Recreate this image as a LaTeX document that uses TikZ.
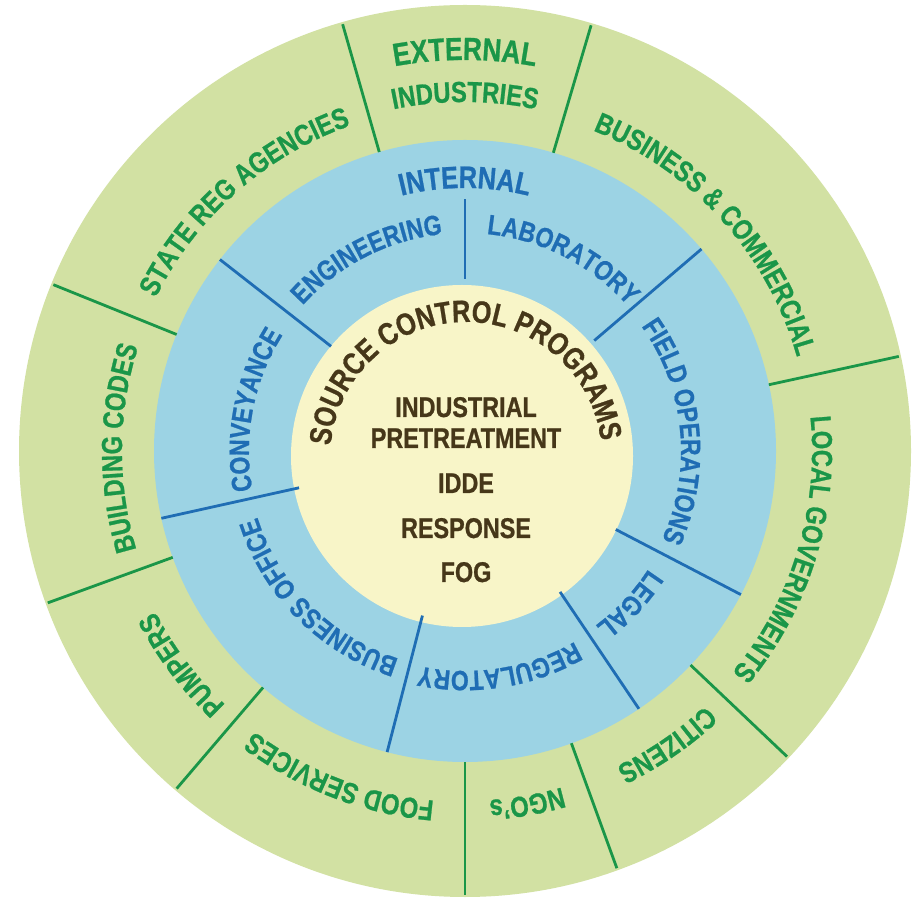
\documentclass[tikz,border=0pt]{standalone}
\usepackage{fontspec}
\setmainfont{Liberation Sans}[FakeStretch=0.82,BoldFeatures={FakeBold=0.8}]
\usetikzlibrary{decorations.text}
\definecolor{ringgreen}{HTML}{D2E1A3}
\definecolor{ringblue}{HTML}{9CD3E4}
\definecolor{cream}{HTML}{F8F5C8}
\definecolor{tgreen}{HTML}{1A9648}
\definecolor{tblue}{HTML}{1F6DB4}
\definecolor{tbrown}{HTML}{463719}
\newcommand{\gfont}{\fontsize{29}{33}\selectfont\bfseries}
\newcommand{\gbigfont}{\fontsize{32}{36}\selectfont\bfseries}
\newcommand{\bfontx}{\fontsize{28}{32}\selectfont\bfseries}
\newcommand{\ifontx}{\fontsize{31}{35}\selectfont\bfseries}
\newcommand{\cfont}{\fontsize{28.5}{32}\selectfont\bfseries}
\newcommand{\tfont}{\fontsize{31}{35}\selectfont\bfseries}
\newcommand{\ringlabel}[5]{%
  \path[decorate,decoration={text along path,text align=center,text color=#4,text={#5}}]
   ([shift={({#3+85}:#2)}]#1) arc[start angle={#3+85},end angle={#3-85},radius=#2];}
\tikzset{
  gline/.style={draw=tgreen,line width=2.8pt},
  bline/.style={draw=tblue,line width=2.8pt},
  centertext/.style={text=tbrown,font=\cfont,anchor=base,inner sep=0pt}
}
\begin{document}
\begin{tikzpicture}[x=1pt,y=1pt]
\useasboundingbox (0,0) rectangle (917,902);
\fill[white] (0,0) rectangle (917,902);
\coordinate (C) at (465,451);
\coordinate (K) at (462,446);
\coordinate (T) at (466,444);
% rings
\fill[ringgreen] (C) circle[radius=446];
\fill[ringblue] (C) circle[radius=311];
\fill[cream] (K) circle[radius=171];
% outer dividers
\foreach \a in {73.5,106,158,200,229.5,270,290,316.5,12.3}
  \draw[gline] ([shift={(\a:311)}]C) -- ([shift={(\a:444)}]C);
% inner dividers
\foreach \a in {142,40.5,192.5,255.5,304,332.5}
  \draw[bline] ([shift={(\a:170)}]C) -- ([shift={(\a:311)}]C);
\draw[bline] ([shift={(90:172)}]C) -- ([shift={(90:252)}]C);
% outer labels
\ringlabel{C}{391}{90}{tgreen}{|\gbigfont|EXTERNAL}
\ringlabel{C}{349}{90}{tgreen}{|\gfont|INDUSTRIES}
\ringlabel{C}{345}{131.5}{tgreen}{|\gfont|STATE REG AGENCIES}
\ringlabel{C}{345}{42}{tgreen}{|\gfont|BUSINESS {\&} COMMERCIAL}
\ringlabel{C}{347}{343}{tgreen}{|\gfont|LOCAL GOVERNMENTS}
\ringlabel{C}{350}{304.5}{tgreen}{|\gfont|CITIZENS}
\ringlabel{C}{350}{280}{tgreen}{|\gfont|NGO's}
\ringlabel{C}{351}{249}{tgreen}{|\gfont|FOOD SERVICES}
\ringlabel{C}{349}{217}{tgreen}{|\gfont|PUMPERS}
\ringlabel{C}{343}{179.5}{tgreen}{|\gfont|BUILDING CODES}
% inner labels
\ringlabel{C}{263}{90}{tblue}{|\ifontx|INTERNAL}
\ringlabel{C}{218}{117}{tblue}{|\bfontx|ENGINEERING}
\ringlabel{C}{218}{63}{tblue}{|\bfontx|LABORATORY}
\ringlabel{C}{216}{5.5}{tblue}{|\bfontx|FIELD OPERATIONS}
\ringlabel{C}{218}{317}{tblue}{|\bfontx|LEGAL}
\ringlabel{C}{220}{279}{tblue}{|\bfontx|REGULATORY}
\ringlabel{C}{218}{225}{tblue}{|\bfontx|BUSINESS OFFICE}
\ringlabel{C}{216}{169}{tblue}{|\bfontx|CONVEYANCE}
% centre
\ringlabel{T}{136}{91}{tbrown}{|\tfont|SOURCE CONTROL PROGRAMS}
\node[centertext] (ind) at (466,485) {INDUSTRIAL};
\node[centertext] (pre) at (466,454) {PRETREATMENT};
\node[centertext] (idde) at (466,409) {IDDE};
\node[centertext] (resp) at (466,364) {RESPONSE};
\node[centertext] (fog) at (466,320) {FOG};
\end{tikzpicture}
\end{document}
